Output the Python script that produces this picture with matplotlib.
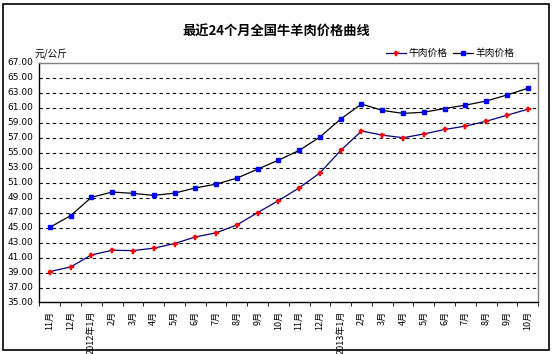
import matplotlib
matplotlib.use("Agg")
import matplotlib.pyplot as plt
import numpy as np
from matplotlib.patches import Rectangle

plt.rcParams["font.family"] = ["Noto Sans CJK SC", "DejaVu Sans"]

months = ["11月", "12月", "2012年1月", "2月", "3月", "4月", "5月", "6月", "7月",
          "8月", "9月", "10月", "11月", "12月", "2013年1月", "2月", "3月", "4月",
          "5月", "6月", "7月", "8月", "9月", "10月"]

beef = [39.13, 39.75, 41.35, 41.97, 41.93, 42.25, 42.87, 43.75, 44.3, 45.35,
        47.0, 48.6, 50.3, 52.3, 55.3, 57.9, 57.35, 57.0, 57.5, 58.1, 58.55,
        59.2, 60.0, 60.8]
mutton = [45.04, 46.6, 49.04, 49.75, 49.57, 49.3, 49.6, 50.3, 50.8, 51.6,
          52.8, 54.0, 55.3, 57.1, 59.5, 61.5, 60.65, 60.25, 60.4, 60.9, 61.35,
          61.9, 62.7, 63.6]

yticks = np.arange(35, 68, 2)

fig = plt.figure(figsize=(5.53, 3.54), dpi=100)
ax = fig.add_axes([0.0714, 0.1455, 0.9016, 0.677])

x = np.arange(len(months))
ax.plot(x, beef, color="#000080", lw=0.9, marker="P", ms=3.6,
        mfc="#ff0000", mec="#ff0000", mew=0.3, label="牛肉价格", zorder=3)
ax.plot(x, mutton, color="black", lw=0.9, marker="s", ms=3.2,
        mfc="#0000ff", mec="#0000ff", label="羊肉价格", zorder=3)

ax.set_xlim(-0.5, len(months) - 0.5)
ax.set_ylim(35, 67)
ax.set_yticks(yticks)
ax.set_yticklabels([])
for v in yticks:
    ax.text(-0.064, v, f"{v:.2f}", transform=ax.get_yaxis_transform(),
            ha="left", va="center", fontsize=6.5, family="DejaVu Sans")
    if 35 < v < 67:
        ax.axhline(v, color="black", lw=0.8, ls=(0, (3, 3)), zorder=1)
ax.tick_params(axis="y", length=0)

ax.set_xticks(x)
ax.set_xticklabels(months, rotation=90, fontsize=6.5, va="top")
ax.tick_params(axis="x", length=0, pad=6)
ax.set_xticks(np.arange(-0.5, len(months)), minor=True)
ax.tick_params(axis="x", which="minor", length=3, direction="out", color="black")

for s in ["left", "bottom"]:
    ax.spines[s].set_color("black")
    ax.spines[s].set_linewidth(1.0)
for s in ["top", "right"]:
    ax.spines[s].set_color("#808080")
    ax.spines[s].set_linewidth(1.0)

fig.text(0.5, 0.91, "最近24个月全国牛羊肉价格曲线", ha="center", va="center",
         fontsize=9.5, fontweight="bold")
fig.text(0.063, 0.85, "元/公斤", ha="left", va="center", fontsize=7,
         style="italic")

leg = ax.legend(loc="lower right", bbox_to_anchor=(0.965, 0.995), ncol=2,
                frameon=False, fontsize=7, handlelength=2.0, handletextpad=0.3,
                columnspacing=0.6, borderpad=0.1)

fig.patches.append(Rectangle((0.006, 0.01), 0.987, 0.98, transform=fig.transFigure,
                             fill=False, edgecolor="black", lw=1.2))

plt.savefig("out.png", dpi=100)
